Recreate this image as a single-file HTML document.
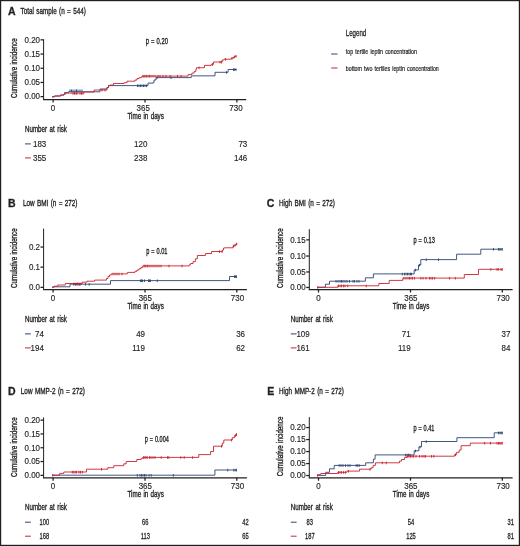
<!DOCTYPE html>
<html lang="en">
<head>
<meta charset="utf-8">
<title>Cumulative incidence by leptin concentration</title>
<style>
html,body{margin:0;padding:0;background:#fff;}
body{width:520px;height:546px;overflow:hidden;}
svg{display:block;font-family:"Liberation Sans",Arial,Helvetica,sans-serif;}
</style>
</head>
<body>
<svg width="520" height="546" viewBox="0 0 520 546">
<rect x="0" y="0" width="520" height="546" fill="#ffffff"/>
<rect x="0.6" y="0.6" width="518.8" height="544.8" fill="none" stroke="#231f20" stroke-width="1.2"/>
<text transform="translate(345.80 35.80) scale(0.6827 1)" x="0.00" y="0" font-size="9" fill="#231f20" stroke="#231f20" stroke-width="0.3">Legend</text>
<line x1="331.20" y1="54.00" x2="337.50" y2="54.00" stroke="#2b4474" stroke-width="1"/>
<text transform="translate(345.80 53.60) scale(0.6609 1)" x="0.00" y="0" font-size="8" word-spacing="1.08" fill="#231f20" stroke="#231f20" stroke-width="0.25">top tertile leptin concentration</text>
<line x1="331.20" y1="68.00" x2="337.50" y2="68.00" stroke="#c8242f" stroke-width="1"/>
<text transform="translate(345.80 70.60) scale(0.6623 1)" x="0.00" y="0" font-size="8" word-spacing="1.06" fill="#231f20" stroke="#231f20" stroke-width="0.25">bottom two tertiles leptin concentration</text>
<text x="8.00" y="15.30" font-size="10.5" font-weight="bold" fill="#231f20" stroke="#231f20" stroke-width="0.3">A</text>
<text transform="translate(20.50 14.30) scale(0.7042 1)" x="0.00" y="0" font-size="9" word-spacing="0.93" fill="#231f20" stroke="#231f20" stroke-width="0.35">Total sample (n = 544)</text>
<line x1="43.60" y1="39.30" x2="43.60" y2="100.00" stroke="#231f20" stroke-width="1"/>
<line x1="43.10" y1="99.65" x2="246.20" y2="99.65" stroke="#231f20" stroke-width="1.3"/>
<line x1="40.50" y1="39.85" x2="43.60" y2="39.85" stroke="#231f20" stroke-width="1.25"/>
<text transform="translate(40.00 42.60) scale(0.95 1)" x="0" y="0" font-size="8.4" text-anchor="end" fill="#231f20" stroke="#231f20" stroke-width="0.15">0.20</text>
<line x1="40.50" y1="54.05" x2="43.60" y2="54.05" stroke="#231f20" stroke-width="1.25"/>
<text transform="translate(40.00 56.80) scale(0.95 1)" x="0" y="0" font-size="8.4" text-anchor="end" fill="#231f20" stroke="#231f20" stroke-width="0.15">0.15</text>
<line x1="40.50" y1="68.25" x2="43.60" y2="68.25" stroke="#231f20" stroke-width="1.25"/>
<text transform="translate(40.00 71.00) scale(0.95 1)" x="0" y="0" font-size="8.4" text-anchor="end" fill="#231f20" stroke="#231f20" stroke-width="0.15">0.10</text>
<line x1="40.50" y1="82.45" x2="43.60" y2="82.45" stroke="#231f20" stroke-width="1.25"/>
<text transform="translate(40.00 85.20) scale(0.95 1)" x="0" y="0" font-size="8.4" text-anchor="end" fill="#231f20" stroke="#231f20" stroke-width="0.15">0.05</text>
<line x1="40.50" y1="96.65" x2="43.60" y2="96.65" stroke="#231f20" stroke-width="1.25"/>
<text transform="translate(40.00 99.40) scale(0.95 1)" x="0" y="0" font-size="8.4" text-anchor="end" fill="#231f20" stroke="#231f20" stroke-width="0.15">0.00</text>
<line x1="53.10" y1="99.50" x2="53.10" y2="102.50" stroke="#231f20" stroke-width="1.25"/>
<text transform="translate(52.90 110.65) scale(0.95 1)" x="0" y="0" font-size="8.4" text-anchor="middle" fill="#231f20" stroke="#231f20" stroke-width="0.15">0</text>
<line x1="145.00" y1="99.50" x2="145.00" y2="102.50" stroke="#231f20" stroke-width="1.25"/>
<text transform="translate(143.20 110.65) scale(0.95 1)" x="0" y="0" font-size="8.4" text-anchor="middle" fill="#231f20" stroke="#231f20" stroke-width="0.15">365</text>
<line x1="236.90" y1="99.50" x2="236.90" y2="102.50" stroke="#231f20" stroke-width="1.25"/>
<text transform="translate(236.00 110.65) scale(0.95 1)" x="0" y="0" font-size="8.4" text-anchor="middle" fill="#231f20" stroke="#231f20" stroke-width="0.15">730</text>
<text transform="translate(17.20 68.10) rotate(-90) scale(0.6909 1)" x="-43.20" y="0" font-size="9" word-spacing="0.86" fill="#231f20" stroke="#231f20" stroke-width="0.35">Cumulative incidence</text>
<text transform="translate(145.70 118.90) scale(0.6986 1)" x="-26.12" y="0" font-size="9" word-spacing="0.78" fill="#231f20" stroke="#231f20" stroke-width="0.35">Time in days</text>
<text transform="translate(145.80 43.80) scale(0.6885 1)" x="0.00" y="0" font-size="8.5" word-spacing="0.64" fill="#231f20" stroke="#231f20" stroke-width="0.35">p = 0.20</text>
<path d="M52.00 96.80H54.50V96.00H60.50V95.00H64.00V94.00H64.50V92.60H68.50V91.80H100.00V89.00H107.00V87.50H108.50V85.60H148.00V83.10H153.00V82.60H154.00V80.00H156.00V77.60H191.20V75.85H215.00V72.30H228.10V69.50H236.50V69.50" fill="none" stroke="#2b4474" stroke-width="0.9" stroke-linejoin="miter"/>
<path d="M52.00 96.80H54.50V96.00H60.50V95.00H64.00V94.00H66.00V93.10H84.00V92.00H94.00V90.00H107.00V87.50H108.50V85.60H110.00V85.00H113.50V83.50H124.00V82.70H127.00V81.20H135.00V80.00H137.00V78.50H139.00V77.70H141.00V77.20H142.00V76.10H188.10V74.60H191.90V73.10H194.20V71.50H195.80V69.20H196.50V67.70H204.50V65.40H211.20V64.30H213.50V62.00H222.20V60.00H224.20V59.20H231.20V58.20H233.50V57.00H235.00V56.20H236.50V56.20" fill="none" stroke="#c8242f" stroke-width="0.9" stroke-linejoin="miter"/>
<path d="M70.00 89.45V92.05M71.50 89.45V92.05M73.00 89.45V92.05M75.00 89.45V92.05M76.50 89.45V92.05M78.00 89.45V92.05M80.00 89.45V92.05M82.00 89.45V92.05M137.50 84.45V87.05M139.00 84.45V87.05M140.50 84.45V87.05M142.00 84.45V87.05M143.50 84.45V87.05M145.00 84.45V87.05M146.50 84.45V87.05M157.00 76.45V79.05M171.00 76.45V79.05M226.50 71.15V73.75M233.50 68.35V70.95M234.70 68.35V70.95M236.00 68.35V70.95" fill="none" stroke="#2b4474" stroke-width="0.9"/>
<path d="M73.00 92.15V94.75M74.50 92.15V94.75M76.00 92.15V94.75M77.00 92.15V94.75M80.00 92.15V94.75M81.50 92.15V94.75M83.00 92.15V94.75M102.00 88.85V91.45M105.00 88.85V91.45M143.00 74.95V77.55M144.00 74.95V77.55M145.00 74.95V77.55M146.50 74.95V77.55M148.00 74.95V77.55M149.50 74.95V77.55M151.00 74.95V77.55M153.00 74.95V77.55M155.00 74.95V77.55M158.00 74.95V77.55M160.00 74.95V77.55M163.00 74.95V77.55M166.00 74.95V77.55M170.00 74.95V77.55M177.50 74.95V77.55M181.00 74.95V77.55M199.00 66.55V69.15M212.50 63.15V65.75M220.00 60.85V63.45M221.50 60.85V63.45M225.50 58.05V60.65M232.00 57.05V59.65M234.50 55.65V58.25M236.00 55.05V57.65" fill="none" stroke="#c8242f" stroke-width="0.9"/>
<text transform="translate(25.00 132.30) scale(0.6891 1)" x="0.00" y="0" font-size="9" word-spacing="1.22" fill="#231f20" stroke="#231f20" stroke-width="0.35">Number at risk</text>
<line x1="25.00" y1="143.90" x2="30.80" y2="143.90" stroke="#2b4474" stroke-width="1"/>
<text transform="translate(46.30 146.60) scale(0.95 1)" x="0" y="0" font-size="8.4" text-anchor="end" fill="#231f20" stroke="#231f20" stroke-width="0.15">183</text>
<text transform="translate(147.40 146.60) scale(0.95 1)" x="0" y="0" font-size="8.4" text-anchor="end" fill="#231f20" stroke="#231f20" stroke-width="0.15">120</text>
<text transform="translate(247.30 146.60) scale(0.95 1)" x="0" y="0" font-size="8.4" text-anchor="end" fill="#231f20" stroke="#231f20" stroke-width="0.15">73</text>
<line x1="25.00" y1="157.90" x2="30.80" y2="157.90" stroke="#c8242f" stroke-width="1"/>
<text transform="translate(46.30 160.60) scale(0.95 1)" x="0" y="0" font-size="8.4" text-anchor="end" fill="#231f20" stroke="#231f20" stroke-width="0.15">355</text>
<text transform="translate(147.40 160.60) scale(0.95 1)" x="0" y="0" font-size="8.4" text-anchor="end" fill="#231f20" stroke="#231f20" stroke-width="0.15">238</text>
<text transform="translate(247.30 160.60) scale(0.95 1)" x="0" y="0" font-size="8.4" text-anchor="end" fill="#231f20" stroke="#231f20" stroke-width="0.15">146</text>
<text x="8.00" y="206.90" font-size="10.5" font-weight="bold" fill="#231f20" stroke="#231f20" stroke-width="0.3">B</text>
<text transform="translate(23.00 205.80) scale(0.7091 1)" x="0.00" y="0" font-size="9" word-spacing="0.77" fill="#231f20" stroke="#231f20" stroke-width="0.35">Low BMI (n = 272)</text>
<line x1="43.60" y1="228.60" x2="43.60" y2="290.00" stroke="#231f20" stroke-width="1"/>
<line x1="43.10" y1="289.65" x2="246.90" y2="289.65" stroke="#231f20" stroke-width="1.3"/>
<line x1="40.50" y1="247.05" x2="43.60" y2="247.05" stroke="#231f20" stroke-width="1.25"/>
<text transform="translate(40.00 249.80) scale(0.95 1)" x="0" y="0" font-size="8.4" text-anchor="end" fill="#231f20" stroke="#231f20" stroke-width="0.15">0.2</text>
<line x1="40.50" y1="267.15" x2="43.60" y2="267.15" stroke="#231f20" stroke-width="1.25"/>
<text transform="translate(40.00 269.90) scale(0.95 1)" x="0" y="0" font-size="8.4" text-anchor="end" fill="#231f20" stroke="#231f20" stroke-width="0.15">0.1</text>
<line x1="40.50" y1="287.35" x2="43.60" y2="287.35" stroke="#231f20" stroke-width="1.25"/>
<text transform="translate(40.00 290.10) scale(0.95 1)" x="0" y="0" font-size="8.4" text-anchor="end" fill="#231f20" stroke="#231f20" stroke-width="0.15">0.0</text>
<line x1="53.10" y1="289.50" x2="53.10" y2="292.50" stroke="#231f20" stroke-width="1.25"/>
<text transform="translate(52.90 300.65) scale(0.95 1)" x="0" y="0" font-size="8.4" text-anchor="middle" fill="#231f20" stroke="#231f20" stroke-width="0.15">0</text>
<line x1="145.00" y1="289.50" x2="145.00" y2="292.50" stroke="#231f20" stroke-width="1.25"/>
<text transform="translate(145.30 300.65) scale(0.95 1)" x="0" y="0" font-size="8.4" text-anchor="middle" fill="#231f20" stroke="#231f20" stroke-width="0.15">365</text>
<line x1="236.80" y1="289.50" x2="236.80" y2="292.50" stroke="#231f20" stroke-width="1.25"/>
<text transform="translate(237.50 300.65) scale(0.95 1)" x="0" y="0" font-size="8.4" text-anchor="middle" fill="#231f20" stroke="#231f20" stroke-width="0.15">730</text>
<text transform="translate(17.20 258.10) rotate(-90) scale(0.6909 1)" x="-43.20" y="0" font-size="9" word-spacing="0.86" fill="#231f20" stroke="#231f20" stroke-width="0.35">Cumulative incidence</text>
<text transform="translate(145.65 308.90) scale(0.6986 1)" x="-26.12" y="0" font-size="9" word-spacing="0.78" fill="#231f20" stroke="#231f20" stroke-width="0.35">Time in days</text>
<text transform="translate(146.20 253.80) scale(0.6575 1)" x="0.00" y="0" font-size="8.5" word-spacing="0.64" fill="#231f20" stroke="#231f20" stroke-width="0.35">p = 0.01</text>
<path d="M52.00 287.20H53.80V286.80H70.00V284.20H110.50V280.60H229.50V276.50H236.90V276.50" fill="none" stroke="#2b4474" stroke-width="0.9" stroke-linejoin="miter"/>
<path d="M52.00 287.20H54.00V286.20H57.70V285.00H65.40V283.50H82.30V282.20H86.90V281.20H94.60V280.10H106.50V278.50H108.00V276.50H109.50V275.00H111.20V273.90H127.30V272.40H135.00V271.30H137.00V270.00H139.00V268.80H141.00V267.50H142.70V265.90H189.20V264.80H190.50V263.50H193.10V261.60H195.40V258.80H197.40V255.50H205.40V253.50H211.50V251.50H222.50V250.00H223.50V248.10H224.60V247.80H233.10V245.80H235.40V244.50H236.90V243.30" fill="none" stroke="#c8242f" stroke-width="0.9" stroke-linejoin="miter"/>
<path d="M73.80 283.05V285.65M75.50 283.05V285.65M77.00 283.05V285.65M79.00 283.05V285.65M80.00 283.05V285.65M85.40 283.05V285.65M89.20 283.05V285.65M140.40 279.45V282.05M141.50 279.45V282.05M142.50 279.45V282.05M144.50 279.45V282.05M148.50 279.45V282.05M149.50 279.45V282.05M150.50 279.45V282.05M157.30 279.45V282.05M234.50 275.35V277.95M235.50 275.35V277.95M236.50 275.35V277.95" fill="none" stroke="#2b4474" stroke-width="0.9"/>
<path d="M74.00 282.55V285.15M76.00 282.55V285.15M77.50 282.55V285.15M79.00 282.55V285.15M81.00 282.55V285.15M113.00 272.75V275.35M115.00 272.75V275.35M117.00 272.75V275.35M119.00 272.75V275.35M122.00 272.75V275.35M144.00 264.75V267.35M145.00 264.75V267.35M146.00 264.75V267.35M147.50 264.75V267.35M149.00 264.75V267.35M151.00 264.75V267.35M153.00 264.75V267.35M155.00 264.75V267.35M157.00 264.75V267.35M159.00 264.75V267.35M161.00 264.75V267.35M169.00 264.75V267.35M182.00 264.75V267.35M219.50 250.35V252.95M222.00 250.35V252.95M233.50 244.65V247.25M235.00 243.85V246.45M236.50 242.65V245.25" fill="none" stroke="#c8242f" stroke-width="0.9"/>
<text transform="translate(25.00 322.30) scale(0.6891 1)" x="0.00" y="0" font-size="9" word-spacing="1.22" fill="#231f20" stroke="#231f20" stroke-width="0.35">Number at risk</text>
<line x1="25.00" y1="333.90" x2="30.80" y2="333.90" stroke="#2b4474" stroke-width="1"/>
<text transform="translate(43.90 336.60) scale(0.95 1)" x="0" y="0" font-size="8.4" text-anchor="end" fill="#231f20" stroke="#231f20" stroke-width="0.15">74</text>
<text transform="translate(145.00 336.60) scale(0.95 1)" x="0" y="0" font-size="8.4" text-anchor="end" fill="#231f20" stroke="#231f20" stroke-width="0.15">49</text>
<text transform="translate(245.00 336.60) scale(0.95 1)" x="0" y="0" font-size="8.4" text-anchor="end" fill="#231f20" stroke="#231f20" stroke-width="0.15">36</text>
<line x1="25.00" y1="347.90" x2="30.80" y2="347.90" stroke="#c8242f" stroke-width="1"/>
<text transform="translate(43.90 350.60) scale(0.95 1)" x="0" y="0" font-size="8.4" text-anchor="end" fill="#231f20" stroke="#231f20" stroke-width="0.15">194</text>
<text transform="translate(145.00 350.60) scale(0.95 1)" x="0" y="0" font-size="8.4" text-anchor="end" fill="#231f20" stroke="#231f20" stroke-width="0.15">119</text>
<text transform="translate(245.00 350.60) scale(0.95 1)" x="0" y="0" font-size="8.4" text-anchor="end" fill="#231f20" stroke="#231f20" stroke-width="0.15">62</text>
<text x="266.80" y="207.10" font-size="10.5" font-weight="bold" fill="#231f20" stroke="#231f20" stroke-width="0.3">C</text>
<text transform="translate(279.00 205.80) scale(0.7094 1)" x="0.00" y="0" font-size="9" word-spacing="0.79" fill="#231f20" stroke="#231f20" stroke-width="0.35">High BMI (n = 272)</text>
<line x1="309.30" y1="229.20" x2="309.30" y2="290.00" stroke="#231f20" stroke-width="1"/>
<line x1="308.80" y1="289.65" x2="512.60" y2="289.65" stroke="#231f20" stroke-width="1.3"/>
<line x1="306.20" y1="239.85" x2="309.30" y2="239.85" stroke="#231f20" stroke-width="1.25"/>
<text transform="translate(305.70 242.60) scale(0.95 1)" x="0" y="0" font-size="8.4" text-anchor="end" fill="#231f20" stroke="#231f20" stroke-width="0.15">0.15</text>
<line x1="306.20" y1="256.05" x2="309.30" y2="256.05" stroke="#231f20" stroke-width="1.25"/>
<text transform="translate(305.70 258.80) scale(0.95 1)" x="0" y="0" font-size="8.4" text-anchor="end" fill="#231f20" stroke="#231f20" stroke-width="0.15">0.10</text>
<line x1="306.20" y1="271.95" x2="309.30" y2="271.95" stroke="#231f20" stroke-width="1.25"/>
<text transform="translate(305.70 274.70) scale(0.95 1)" x="0" y="0" font-size="8.4" text-anchor="end" fill="#231f20" stroke="#231f20" stroke-width="0.15">0.05</text>
<line x1="306.20" y1="287.45" x2="309.30" y2="287.45" stroke="#231f20" stroke-width="1.25"/>
<text transform="translate(305.70 290.20) scale(0.95 1)" x="0" y="0" font-size="8.4" text-anchor="end" fill="#231f20" stroke="#231f20" stroke-width="0.15">0.00</text>
<line x1="318.50" y1="289.50" x2="318.50" y2="292.50" stroke="#231f20" stroke-width="1.25"/>
<text transform="translate(318.50 300.65) scale(0.95 1)" x="0" y="0" font-size="8.4" text-anchor="middle" fill="#231f20" stroke="#231f20" stroke-width="0.15">0</text>
<line x1="410.50" y1="289.50" x2="410.50" y2="292.50" stroke="#231f20" stroke-width="1.25"/>
<text transform="translate(410.90 300.65) scale(0.95 1)" x="0" y="0" font-size="8.4" text-anchor="middle" fill="#231f20" stroke="#231f20" stroke-width="0.15">365</text>
<line x1="502.30" y1="289.50" x2="502.30" y2="292.50" stroke="#231f20" stroke-width="1.25"/>
<text transform="translate(503.10 300.65) scale(0.95 1)" x="0" y="0" font-size="8.4" text-anchor="middle" fill="#231f20" stroke="#231f20" stroke-width="0.15">730</text>
<text transform="translate(282.80 258.10) rotate(-90) scale(0.6909 1)" x="-43.20" y="0" font-size="9" word-spacing="0.86" fill="#231f20" stroke="#231f20" stroke-width="0.35">Cumulative incidence</text>
<text transform="translate(411.10 308.90) scale(0.6986 1)" x="-26.12" y="0" font-size="9" word-spacing="0.78" fill="#231f20" stroke="#231f20" stroke-width="0.35">Time in days</text>
<text transform="translate(413.40 242.70) scale(0.6668 1)" x="0.00" y="0" font-size="8.5" word-spacing="0.64" fill="#231f20" stroke="#231f20" stroke-width="0.35">p = 0.13</text>
<path d="M317.30 287.30H325.40V284.20H329.50V281.20H365.40V277.80H373.40V273.90H414.20V269.90H418.50V265.00H420.80V259.60H456.60V254.20H480.80V249.20H502.30V249.20" fill="none" stroke="#2b4474" stroke-width="0.9" stroke-linejoin="miter"/>
<path d="M317.30 287.30H337.70V285.80H378.80V283.50H389.20V280.40H402.80V278.10H464.30V274.50H478.50V269.30H502.30V269.30" fill="none" stroke="#c8242f" stroke-width="0.9" stroke-linejoin="miter"/>
<path d="M336.00 280.05V282.65M338.00 280.05V282.65M340.00 280.05V282.65M341.50 280.05V282.65M343.00 280.05V282.65M345.00 280.05V282.65M347.00 280.05V282.65M349.50 280.05V282.65M353.00 280.05V282.65M354.50 280.05V282.65M357.00 280.05V282.65M359.00 280.05V282.65M402.30 272.75V275.35M404.50 272.75V275.35M406.00 272.75V275.35M407.50 272.75V275.35M409.00 272.75V275.35M410.50 272.75V275.35M411.50 272.75V275.35M415.50 268.75V271.35M419.50 263.85V266.45M426.20 258.45V261.05M438.50 258.45V261.05M493.50 248.05V250.65M498.50 248.05V250.65M499.80 248.05V250.65M501.00 248.05V250.65M502.30 248.05V250.65" fill="none" stroke="#2b4474" stroke-width="0.9"/>
<path d="M317.80 286.15V288.75M338.50 284.65V287.25M340.00 284.65V287.25M341.50 284.65V287.25M343.50 284.65V287.25M345.00 284.65V287.25M347.70 284.65V287.25M366.20 284.65V287.25M404.00 276.95V279.55M406.00 276.95V279.55M408.00 276.95V279.55M409.50 276.95V279.55M411.00 276.95V279.55M412.50 276.95V279.55M414.50 276.95V279.55M420.80 276.95V279.55M423.00 276.95V279.55M426.00 276.95V279.55M429.50 276.95V279.55M431.00 276.95V279.55M432.50 276.95V279.55M434.60 276.95V279.55M449.50 276.95V279.55M455.40 276.95V279.55M490.80 268.15V270.75M497.00 268.15V270.75M498.30 268.15V270.75M501.00 268.15V270.75M502.30 268.15V270.75" fill="none" stroke="#c8242f" stroke-width="0.9"/>
<text transform="translate(290.80 322.30) scale(0.6891 1)" x="0.00" y="0" font-size="9" word-spacing="1.22" fill="#231f20" stroke="#231f20" stroke-width="0.35">Number at risk</text>
<line x1="290.80" y1="333.90" x2="296.60" y2="333.90" stroke="#2b4474" stroke-width="1"/>
<text transform="translate(309.70 336.60) scale(0.95 1)" x="0" y="0" font-size="8.4" text-anchor="end" fill="#231f20" stroke="#231f20" stroke-width="0.15">109</text>
<text transform="translate(410.60 336.60) scale(0.95 1)" x="0" y="0" font-size="8.4" text-anchor="end" fill="#231f20" stroke="#231f20" stroke-width="0.15">71</text>
<text transform="translate(510.40 336.60) scale(0.95 1)" x="0" y="0" font-size="8.4" text-anchor="end" fill="#231f20" stroke="#231f20" stroke-width="0.15">37</text>
<line x1="290.80" y1="347.90" x2="296.60" y2="347.90" stroke="#c8242f" stroke-width="1"/>
<text transform="translate(309.70 350.60) scale(0.95 1)" x="0" y="0" font-size="8.4" text-anchor="end" fill="#231f20" stroke="#231f20" stroke-width="0.15">161</text>
<text transform="translate(410.60 350.60) scale(0.95 1)" x="0" y="0" font-size="8.4" text-anchor="end" fill="#231f20" stroke="#231f20" stroke-width="0.15">119</text>
<text transform="translate(510.40 350.60) scale(0.95 1)" x="0" y="0" font-size="8.4" text-anchor="end" fill="#231f20" stroke="#231f20" stroke-width="0.15">84</text>
<text x="8.00" y="394.70" font-size="10.5" font-weight="bold" fill="#231f20" stroke="#231f20" stroke-width="0.3">D</text>
<text transform="translate(20.80 394.30) scale(0.7102 1)" x="0.00" y="0" font-size="9" word-spacing="0.90" fill="#231f20" stroke="#231f20" stroke-width="0.35">Low MMP-2 (n = 272)</text>
<line x1="43.60" y1="417.40" x2="43.60" y2="478.20" stroke="#231f20" stroke-width="1"/>
<line x1="43.10" y1="477.85" x2="246.90" y2="477.85" stroke="#231f20" stroke-width="1.3"/>
<line x1="40.50" y1="420.15" x2="43.60" y2="420.15" stroke="#231f20" stroke-width="1.25"/>
<text transform="translate(40.00 422.90) scale(0.95 1)" x="0" y="0" font-size="8.4" text-anchor="end" fill="#231f20" stroke="#231f20" stroke-width="0.15">0.20</text>
<line x1="40.50" y1="433.95" x2="43.60" y2="433.95" stroke="#231f20" stroke-width="1.25"/>
<text transform="translate(40.00 436.70) scale(0.95 1)" x="0" y="0" font-size="8.4" text-anchor="end" fill="#231f20" stroke="#231f20" stroke-width="0.15">0.15</text>
<line x1="40.50" y1="447.75" x2="43.60" y2="447.75" stroke="#231f20" stroke-width="1.25"/>
<text transform="translate(40.00 450.50) scale(0.95 1)" x="0" y="0" font-size="8.4" text-anchor="end" fill="#231f20" stroke="#231f20" stroke-width="0.15">0.10</text>
<line x1="40.50" y1="461.55" x2="43.60" y2="461.55" stroke="#231f20" stroke-width="1.25"/>
<text transform="translate(40.00 464.30) scale(0.95 1)" x="0" y="0" font-size="8.4" text-anchor="end" fill="#231f20" stroke="#231f20" stroke-width="0.15">0.05</text>
<line x1="40.50" y1="475.35" x2="43.60" y2="475.35" stroke="#231f20" stroke-width="1.25"/>
<text transform="translate(40.00 478.10) scale(0.95 1)" x="0" y="0" font-size="8.4" text-anchor="end" fill="#231f20" stroke="#231f20" stroke-width="0.15">0.00</text>
<line x1="53.10" y1="477.70" x2="53.10" y2="480.70" stroke="#231f20" stroke-width="1.25"/>
<text transform="translate(52.90 488.85) scale(0.95 1)" x="0" y="0" font-size="8.4" text-anchor="middle" fill="#231f20" stroke="#231f20" stroke-width="0.15">0</text>
<line x1="145.00" y1="477.70" x2="145.00" y2="480.70" stroke="#231f20" stroke-width="1.25"/>
<text transform="translate(145.30 488.85) scale(0.95 1)" x="0" y="0" font-size="8.4" text-anchor="middle" fill="#231f20" stroke="#231f20" stroke-width="0.15">365</text>
<line x1="236.80" y1="477.70" x2="236.80" y2="480.70" stroke="#231f20" stroke-width="1.25"/>
<text transform="translate(237.50 488.85) scale(0.95 1)" x="0" y="0" font-size="8.4" text-anchor="middle" fill="#231f20" stroke="#231f20" stroke-width="0.15">730</text>
<text transform="translate(17.20 447.10) rotate(-90) scale(0.6909 1)" x="-43.20" y="0" font-size="9" word-spacing="0.86" fill="#231f20" stroke="#231f20" stroke-width="0.35">Cumulative incidence</text>
<text transform="translate(145.65 497.20) scale(0.6986 1)" x="-26.12" y="0" font-size="9" word-spacing="0.78" fill="#231f20" stroke="#231f20" stroke-width="0.35">Time in days</text>
<text transform="translate(144.70 441.50) scale(0.6484 1)" x="0.00" y="0" font-size="8.5" word-spacing="0.74" fill="#231f20" stroke="#231f20" stroke-width="0.35">p = 0.004</text>
<path d="M52.00 475.20H214.90V470.00H236.60V470.00" fill="none" stroke="#2b4474" stroke-width="0.9" stroke-linejoin="miter"/>
<path d="M52.00 475.20H59.70V473.40H63.80V472.00H86.50V469.20H107.80V467.70H113.80V465.70H123.80V463.80H126.20V461.50H136.80V459.50H141.20V458.40H142.70V457.40H198.80V454.60H210.60V451.50H213.50V446.20H222.30V443.10H223.80V440.00H232.30V437.70H234.60V435.40H236.50V433.80" fill="none" stroke="#c8242f" stroke-width="0.9" stroke-linejoin="miter"/>
<path d="M137.30 474.05V476.65M140.00 474.05V476.65M141.50 474.05V476.65M143.00 474.05V476.65M144.50 474.05V476.65M146.00 474.05V476.65M149.00 474.05V476.65M151.20 474.05V476.65M173.40 474.05V476.65M227.70 468.85V471.45M233.80 468.85V471.45M235.20 468.85V471.45M236.50 468.85V471.45" fill="none" stroke="#2b4474" stroke-width="0.9"/>
<path d="M52.80 474.05V476.65M72.30 470.85V473.45M73.80 470.85V473.45M75.20 470.85V473.45M76.50 470.85V473.45M79.00 470.85V473.45M80.50 470.85V473.45M82.30 470.85V473.45M101.50 468.05V470.65M143.50 456.25V458.85M144.80 456.25V458.85M146.00 456.25V458.85M147.20 456.25V458.85M149.50 456.25V458.85M151.00 456.25V458.85M153.00 456.25V458.85M155.00 456.25V458.85M161.20 456.25V458.85M167.50 456.25V458.85M168.80 456.25V458.85M180.80 456.25V458.85M184.20 456.25V458.85M192.60 456.25V458.85M221.50 445.05V447.65M231.50 438.85V441.45M235.50 434.25V436.85M236.50 433.05V435.65" fill="none" stroke="#c8242f" stroke-width="0.9"/>
<text transform="translate(25.00 510.20) scale(0.6891 1)" x="0.00" y="0" font-size="9" word-spacing="1.22" fill="#231f20" stroke="#231f20" stroke-width="0.35">Number at risk</text>
<line x1="25.00" y1="522.20" x2="30.80" y2="522.20" stroke="#2b4474" stroke-width="1"/>
<text transform="translate(44.30 524.90) scale(0.6686 1)" x="-7.17" y="0" font-size="8.6" fill="#231f20" stroke="#231f20" stroke-width="0.3">100</text>
<text transform="translate(145.30 524.90) scale(0.6686 1)" x="-4.78" y="0" font-size="8.6" fill="#231f20" stroke="#231f20" stroke-width="0.3">66</text>
<text transform="translate(245.50 524.90) scale(0.6686 1)" x="-4.78" y="0" font-size="8.6" fill="#231f20" stroke="#231f20" stroke-width="0.3">42</text>
<line x1="25.00" y1="536.20" x2="30.80" y2="536.20" stroke="#c8242f" stroke-width="1"/>
<text transform="translate(44.30 538.90) scale(0.6686 1)" x="-7.17" y="0" font-size="8.6" fill="#231f20" stroke="#231f20" stroke-width="0.3">168</text>
<text transform="translate(145.30 538.90) scale(0.6686 1)" x="-6.85" y="0" font-size="8.6" fill="#231f20" stroke="#231f20" stroke-width="0.3">113</text>
<text transform="translate(245.50 538.90) scale(0.6686 1)" x="-4.78" y="0" font-size="8.6" fill="#231f20" stroke="#231f20" stroke-width="0.3">65</text>
<text x="267.20" y="394.70" font-size="10.5" font-weight="bold" fill="#231f20" stroke="#231f20" stroke-width="0.3">E</text>
<text transform="translate(279.00 394.30) scale(0.7029 1)" x="0.00" y="0" font-size="9" word-spacing="0.92" fill="#231f20" stroke="#231f20" stroke-width="0.35">High MMP-2 (n = 272)</text>
<line x1="309.30" y1="417.10" x2="309.30" y2="478.20" stroke="#231f20" stroke-width="1"/>
<line x1="308.80" y1="477.85" x2="512.60" y2="477.85" stroke="#231f20" stroke-width="1.3"/>
<line x1="306.20" y1="427.55" x2="309.30" y2="427.55" stroke="#231f20" stroke-width="1.25"/>
<text transform="translate(305.70 430.30) scale(0.95 1)" x="0" y="0" font-size="8.4" text-anchor="end" fill="#231f20" stroke="#231f20" stroke-width="0.15">0.20</text>
<line x1="306.20" y1="439.55" x2="309.30" y2="439.55" stroke="#231f20" stroke-width="1.25"/>
<text transform="translate(305.70 442.30) scale(0.95 1)" x="0" y="0" font-size="8.4" text-anchor="end" fill="#231f20" stroke="#231f20" stroke-width="0.15">0.15</text>
<line x1="306.20" y1="451.55" x2="309.30" y2="451.55" stroke="#231f20" stroke-width="1.25"/>
<text transform="translate(305.70 454.30) scale(0.95 1)" x="0" y="0" font-size="8.4" text-anchor="end" fill="#231f20" stroke="#231f20" stroke-width="0.15">0.10</text>
<line x1="306.20" y1="463.55" x2="309.30" y2="463.55" stroke="#231f20" stroke-width="1.25"/>
<text transform="translate(305.70 466.30) scale(0.95 1)" x="0" y="0" font-size="8.4" text-anchor="end" fill="#231f20" stroke="#231f20" stroke-width="0.15">0.05</text>
<line x1="306.20" y1="475.55" x2="309.30" y2="475.55" stroke="#231f20" stroke-width="1.25"/>
<text transform="translate(305.70 478.30) scale(0.95 1)" x="0" y="0" font-size="8.4" text-anchor="end" fill="#231f20" stroke="#231f20" stroke-width="0.15">0.00</text>
<line x1="318.50" y1="477.70" x2="318.50" y2="480.70" stroke="#231f20" stroke-width="1.25"/>
<text transform="translate(318.50 488.85) scale(0.95 1)" x="0" y="0" font-size="8.4" text-anchor="middle" fill="#231f20" stroke="#231f20" stroke-width="0.15">0</text>
<line x1="410.50" y1="477.70" x2="410.50" y2="480.70" stroke="#231f20" stroke-width="1.25"/>
<text transform="translate(410.90 488.85) scale(0.95 1)" x="0" y="0" font-size="8.4" text-anchor="middle" fill="#231f20" stroke="#231f20" stroke-width="0.15">365</text>
<line x1="502.30" y1="477.70" x2="502.30" y2="480.70" stroke="#231f20" stroke-width="1.25"/>
<text transform="translate(503.10 488.85) scale(0.95 1)" x="0" y="0" font-size="8.4" text-anchor="middle" fill="#231f20" stroke="#231f20" stroke-width="0.15">730</text>
<text transform="translate(282.80 446.40) rotate(-90) scale(0.6909 1)" x="-43.20" y="0" font-size="9" word-spacing="0.86" fill="#231f20" stroke="#231f20" stroke-width="0.35">Cumulative incidence</text>
<text transform="translate(411.10 497.20) scale(0.6986 1)" x="-26.12" y="0" font-size="9" word-spacing="0.78" fill="#231f20" stroke="#231f20" stroke-width="0.35">Time in days</text>
<text transform="translate(413.40 431.10) scale(0.6512 1)" x="0.00" y="0" font-size="8.5" word-spacing="0.64" fill="#231f20" stroke="#231f20" stroke-width="0.35">p = 0.41</text>
<path d="M317.00 475.40H325.70V472.30H329.50V468.80H334.20V465.40H365.70V462.80H373.40V459.20H375.10V454.90H414.20V450.80H418.90V446.90H421.50V441.50H456.90V437.70H494.20V432.80H502.30V432.80" fill="none" stroke="#2b4474" stroke-width="0.9" stroke-linejoin="miter"/>
<path d="M317.00 475.40H318.50V474.60H320.80V473.50H337.70V472.30H346.90V471.10H359.50V469.20H371.10V467.70H373.10V465.40H375.40V462.80H399.50V461.10H401.50V459.50H404.60V457.40H406.90V456.20H454.60V454.60H456.60V452.30H459.20V450.00H461.10V445.70H470.30V443.10H502.30V443.10" fill="none" stroke="#c8242f" stroke-width="0.9" stroke-linejoin="miter"/>
<path d="M339.20 464.25V466.85M341.00 464.25V466.85M343.00 464.25V466.85M345.50 464.25V466.85M348.00 464.25V466.85M350.00 464.25V466.85M356.20 464.25V466.85M357.70 464.25V466.85M359.20 464.25V466.85M405.40 453.75V456.35M407.00 453.75V456.35M408.50 453.75V456.35M410.00 453.75V456.35M415.50 449.65V452.25M420.00 445.75V448.35M426.20 440.35V442.95M498.50 431.65V434.25M500.00 431.65V434.25M501.20 431.65V434.25M502.30 431.65V434.25" fill="none" stroke="#2b4474" stroke-width="0.9"/>
<path d="M317.60 474.05V476.65M338.50 471.15V473.75M340.00 471.15V473.75M341.50 471.15V473.75M343.50 471.15V473.75M345.40 471.15V473.75M348.50 469.95V472.55M370.00 468.05V470.65M382.30 461.65V464.25M386.20 461.65V464.25M407.50 455.05V457.65M409.00 455.05V457.65M410.50 455.05V457.65M412.00 455.05V457.65M413.50 455.05V457.65M416.00 455.05V457.65M419.50 455.05V457.65M422.00 455.05V457.65M424.00 455.05V457.65M425.50 455.05V457.65M431.50 455.05V457.65M433.80 455.05V457.65M455.50 453.45V456.05M484.60 441.95V444.55M490.50 441.95V444.55M497.00 441.95V444.55M498.50 441.95V444.55M499.80 441.95V444.55M501.00 441.95V444.55M502.30 441.95V444.55" fill="none" stroke="#c8242f" stroke-width="0.9"/>
<text transform="translate(290.80 510.20) scale(0.6891 1)" x="0.00" y="0" font-size="9" word-spacing="1.22" fill="#231f20" stroke="#231f20" stroke-width="0.35">Number at risk</text>
<line x1="290.80" y1="522.20" x2="296.60" y2="522.20" stroke="#2b4474" stroke-width="1"/>
<text transform="translate(309.80 524.90) scale(0.6686 1)" x="-4.78" y="0" font-size="8.6" fill="#231f20" stroke="#231f20" stroke-width="0.3">83</text>
<text transform="translate(411.00 524.90) scale(0.6686 1)" x="-4.78" y="0" font-size="8.6" fill="#231f20" stroke="#231f20" stroke-width="0.3">54</text>
<text transform="translate(510.80 524.90) scale(0.6686 1)" x="-4.78" y="0" font-size="8.6" fill="#231f20" stroke="#231f20" stroke-width="0.3">31</text>
<line x1="290.80" y1="536.20" x2="296.60" y2="536.20" stroke="#c8242f" stroke-width="1"/>
<text transform="translate(309.80 538.90) scale(0.6686 1)" x="-7.17" y="0" font-size="8.6" fill="#231f20" stroke="#231f20" stroke-width="0.3">187</text>
<text transform="translate(411.00 538.90) scale(0.6686 1)" x="-7.17" y="0" font-size="8.6" fill="#231f20" stroke="#231f20" stroke-width="0.3">125</text>
<text transform="translate(510.80 538.90) scale(0.6686 1)" x="-4.78" y="0" font-size="8.6" fill="#231f20" stroke="#231f20" stroke-width="0.3">81</text>
</svg>
</body>
</html>
